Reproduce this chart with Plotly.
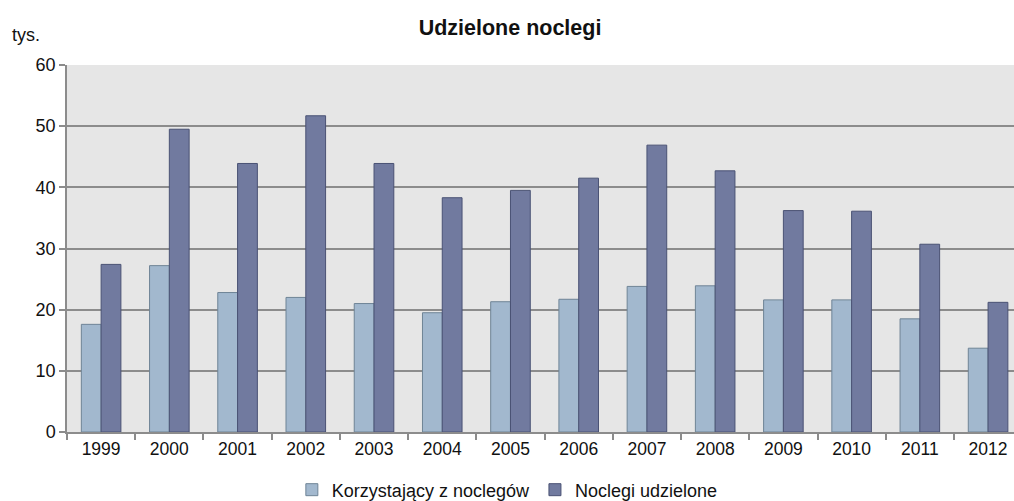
import plotly.graph_objects as go

years = ["1999", "2000", "2001", "2002", "2003", "2004", "2005",
         "2006", "2007", "2008", "2009", "2010", "2011", "2012"]
korzystajacy = [17.6, 27.2, 22.8, 22.0, 21.0, 19.5, 21.3,
                21.7, 23.8, 23.9, 21.6, 21.6, 18.5, 13.7]
noclegi = [27.4, 49.5, 43.9, 51.7, 43.9, 38.3, 39.5,
           41.5, 46.9, 42.7, 36.2, 36.1, 30.7, 21.2]

FONT = "Liberation Sans, Arial, sans-serif"

fig = go.Figure()
fig.add_bar(name="Korzystający z noclegów", x=years, y=korzystajacy,
            marker=dict(color="#A2B8CE", line=dict(color="#6F8496", width=1)))
fig.add_bar(name="Noclegi udzielone", x=years, y=noclegi,
            marker=dict(color="#717A9F", line=dict(color="#4A5274", width=1)))

fig.update_layout(
    width=1014, height=501,
    margin=dict(l=67, r=0, t=65, b=69, autoexpand=False),
    paper_bgcolor="white",
    plot_bgcolor="#E6E6E6",
    font=dict(family=FONT, size=18, color="#111111"),
    barmode="group",
    bargap=0.42,
    bargroupgap=0,
    title=dict(text="<b>Udzielone noclegi</b>", x=0.503, xanchor="center",
               y=0.946, yanchor="middle", font=dict(size=21.5)),
    legend=dict(orientation="h", x=0.465, xanchor="center", y=-0.158, yanchor="middle",
                font=dict(size=18), traceorder="normal", itemwidth=30,
                tracegroupgap=0),
    showlegend=True,
)

fig.update_xaxes(
    type="category", range=[-0.5, 13.38], automargin=False,
    showgrid=False, tickson="boundaries",
    ticks="outside", ticklen=6, tickcolor="#8C8C8C", tickwidth=1.5,
    showline=True, linecolor="#8C8C8C", linewidth=1.5,
    tickfont=dict(size=17.5),
)
fig.update_yaxes(
    range=[0, 60], dtick=10, automargin=False,
    showgrid=True, gridcolor="#8C8C8C", gridwidth=1.5,
    ticks="outside", ticklen=6, tickcolor="#8C8C8C", tickwidth=1.5,
    showline=True, linecolor="#8C8C8C", linewidth=1.5,
    zeroline=False, tickfont=dict(size=18),
)

fig.add_annotation(text="tys.", xref="paper", yref="paper", x=-0.0602, y=1.082,
                   xanchor="left", yanchor="middle", showarrow=False,
                   font=dict(size=18))

# drop the default page margin so the figure sits at the top-left corner
fig.write_html("out.html",
               config={"displayModeBar": False},
               post_script="document.body.style.margin='0';"
                           "document.body.style.overflow='hidden';")
